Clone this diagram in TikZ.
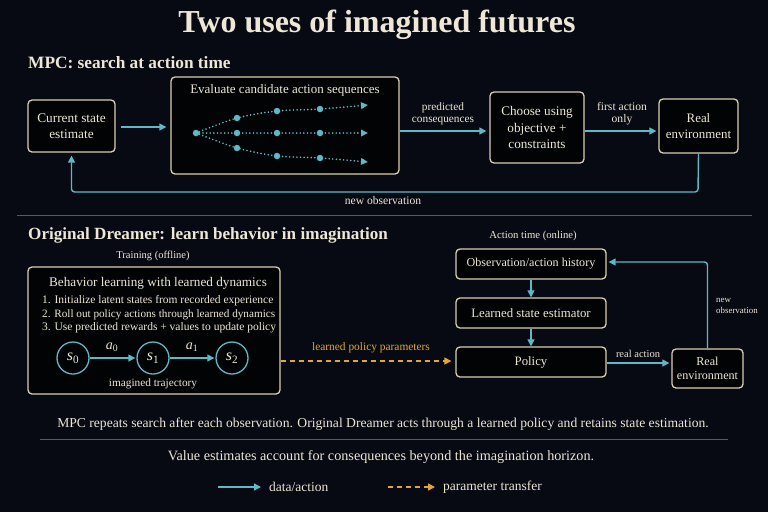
\documentclass[tikz,border=0pt]{standalone}
\usepackage{fontspec}
\setmainfont{Liberation Serif}
\usetikzlibrary{arrows.meta}
\definecolor{bg}{HTML}{070A12}
\definecolor{boxfill}{HTML}{020305}
\definecolor{boxc}{HTML}{D9CFAE}
\definecolor{txt}{HTML}{EEE7D6}
\definecolor{teal}{HTML}{5FB8C6}
\definecolor{gold}{HTML}{E2A733}
\definecolor{sepc}{HTML}{5C5A55}
\newcommand{\fs}[2]{\fontsize{#1}{#2}\selectfont}
\tikzset{
  box/.style={draw=boxc, fill=boxfill, rounded corners=4pt, line width=1.3pt, text=txt, align=center, inner sep=0pt},
  lbl/.style={text=txt, align=center, inner sep=0pt},
  flow/.style={draw=teal, line width=1.4pt, -{Triangle[length=7pt,width=7pt]}},
  param/.style={draw=gold, line width=1.4pt, dash pattern=on 5pt off 4pt, -{Triangle[length=7pt,width=7pt]}},
  dotline/.style={draw=teal, line width=1.8pt, line cap=round, dash pattern=on 0pt off 3.6pt, -{Triangle[length=7pt,width=6.5pt]}},
  dot/.style={circle, fill=teal, inner sep=0pt, minimum size=6.5pt},
  st/.style={circle, draw=teal, line width=1.3pt, minimum size=32pt, inner sep=0pt, text=txt},
  sep/.style={draw=sepc, line width=1pt}
}
\begin{document}
\begin{tikzpicture}[x=1pt,y=-1pt]
\fill[bg] (0,0) rectangle (768,512);
\useasboundingbox (0,0) rectangle (768,512);
% title
\node[lbl, font=\fs{32}{36}\bfseries] (title) at (377,25) {Two uses of imagined futures};
\node[lbl, anchor=west, font=\fs{17.3}{20}\bfseries] (h1) at (28,63) {MPC: search at action time};
% top row
\node[box, minimum width=87, minimum height=52, font=\fs{13.3}{16}] (cur) at (71.5,126) {Current state\\estimate};
\node[box, minimum width=228, minimum height=97] (cand) at (285,125.5) {};
\node[lbl, font=\fs{13}{16}] (candt) at (285,90) {Evaluate candidate action sequences};
\node[box, minimum width=94, minimum height=71, font=\fs{13.2}{16.5}] (choose) at (537,127.5) {Choose using\\objective +\\constraints};
\node[box, minimum width=79, minimum height=54, font=\fs{12.9}{16}] (realtop) at (698.5,126) {Real\\environment};
% candidate dots
\node[dot] (d0) at (196,133) {};
\node[dot] (t1) at (237,118) {};
\node[dot] (t2) at (277,111) {};
\node[dot] (t3) at (320,109) {};
\coordinate (t4) at (368,105);
\node[dot] (m1) at (237,133) {};
\node[dot] (m2) at (277,133) {};
\node[dot] (m3) at (320,133) {};
\coordinate (m4) at (368,133);
\node[dot] (b1) at (237,148) {};
\node[dot] (b2) at (277,156) {};
\node[dot] (b3) at (320,158) {};
\coordinate (b4) at (368,162);
\draw[dotline] plot[smooth, tension=0.5] coordinates {(d0) (t1) (t2) (t3) (t4)};
\draw[dotline] (d0) -- (m4);
\draw[dotline] plot[smooth, tension=0.5] coordinates {(d0) (b1) (b2) (b3) (b4)};
% top arrows
\draw[flow, shorten <=5pt, shorten >=4pt] (cur.east |- 0,127) -- (cand.west |- 0,127);
\draw[flow, shorten >=3pt] (cand.east |- 0,131) -- (choose.west |- 0,131);
\node[lbl, font=\fs{11.3}{12}] (pc) at (443,114) {predicted\\consequences};
\draw[flow, shorten >=2pt] (choose.east |- 0,131) -- (realtop.west |- 0,131);
\node[lbl, font=\fs{11.6}{12}] (fa) at (622,114) {first action\\only};
\draw[flow, rounded corners=3pt, shorten >=3pt] (realtop.south) -- (698,192) -- (71.5,192) -- (cur.south);
\node[lbl, font=\fs{11.6}{14}] (no1) at (383,201) {new observation};
\draw[sep] (17,215) -- (752,215);
% bottom left
\node[lbl, anchor=west, font=\fs{17.1}{20}\bfseries] (h2) at (28,235) {Original Dreamer: learn behavior in imagination};
\node[lbl, font=\fs{10.5}{13}] (tr) at (153,256) {Training (offline)};
\node[box, minimum width=252, minimum height=127] (train) at (154,330.5) {};
\node[lbl, font=\fs{13.2}{16}] (trt) at (158,283) {Behavior learning with learned dynamics};
\node[lbl, anchor=west, font=\fs{11.5}{14}] (l1) at (42,301) {1. Initialize latent states from recorded experience};
\node[lbl, anchor=west, font=\fs{11.2}{14}] (l2) at (42,315) {2. Roll out policy actions through learned dynamics};
\node[lbl, anchor=west, font=\fs{11.5}{14}] (l3) at (42,328) {3. Use predicted rewards + values to update policy};
\node[st, font=\fs{16}{18}] (s0) at (73,358) {\textit{s}\textsubscript{0}};
\node[st, font=\fs{16}{18}] (s1) at (153,358) {\textit{s}\textsubscript{1}};
\node[st, font=\fs{16}{18}] (s2) at (232,358) {\textit{s}\textsubscript{2}};
\draw[flow, shorten >=1pt] (s0) -- (s1);
\draw[flow, shorten >=1pt] (s1) -- (s2);
\node[lbl, font=\fs{14}{16}] (a0) at (112,347) {\textit{a}\textsubscript{0}};
\node[lbl, font=\fs{14}{16}] (a1) at (192,347) {\textit{a}\textsubscript{1}};
\node[lbl, font=\fs{11.3}{13}] (it) at (153,384) {imagined trajectory};
% bottom right
\node[lbl, font=\fs{10.7}{13}] (at) at (533,236) {Action time (online)};
\node[box, minimum width=150, minimum height=30, font=\fs{12.1}{15}] (obs) at (531,264) {Observation/action history};
\node[box, minimum width=150, minimum height=30, font=\fs{12.8}{15}] (lse) at (531,313) {Learned state estimator};
\node[box, minimum width=150, minimum height=30, font=\fs{12.8}{15}] (pol) at (531,362) {Policy};
\node[box, minimum width=71, minimum height=39, font=\fs{12.1}{14.5}] (realbot) at (707.5,368.5) {Real\\environment};
\draw[flow] (obs.south) -- (lse.north);
\draw[flow] (lse.south) -- (pol.north);
\draw[flow, shorten >=2pt] (pol.east |- 0,363) -- (realbot.west |- 0,363);
\node[lbl, font=\fs{10.5}{13}] (ra) at (638,354) {real action};
\draw[flow, rounded corners=3pt, shorten >=2pt] (realbot.north) -- (707.5,262) -- (obs.east |- 0,262);
\node[lbl, anchor=west, align=left, font=\fs{8.9}{10.5}] (no2) at (716,306) {new\\observation};
\draw[param, shorten >=4pt] (train.east |- 0,361) -- (pol.west |- 0,361);
\node[lbl, text=gold, font=\fs{11.4}{13}] (lpp) at (371,348) {learned policy parameters};
% footer
\node[lbl, font=\fs{13.6}{16}] (f1) at (383,424) {MPC repeats search after each observation. Original Dreamer acts through a learned policy and retains state estimation.};
\draw[sep] (40,439) -- (728,439);
\node[lbl, font=\fs{14.2}{17}] (f2) at (381,457) {Value estimates account for consequences beyond the imagination horizon.};
\coordinate (lg1a) at (218,487);
\coordinate (lg1b) at (261,487);
\draw[flow] (lg1a) -- (lg1b);
\node[lbl, anchor=west, font=\fs{13.5}{15}] (lgt1) at (269,487) {data/action};
\coordinate (lg2a) at (388,487);
\coordinate (lg2b) at (435,487);
\draw[param] (lg2a) -- (lg2b);
\node[lbl, anchor=west, font=\fs{13.5}{15}] (lgt2) at (443,487) {parameter transfer};
\end{tikzpicture}
\end{document}
